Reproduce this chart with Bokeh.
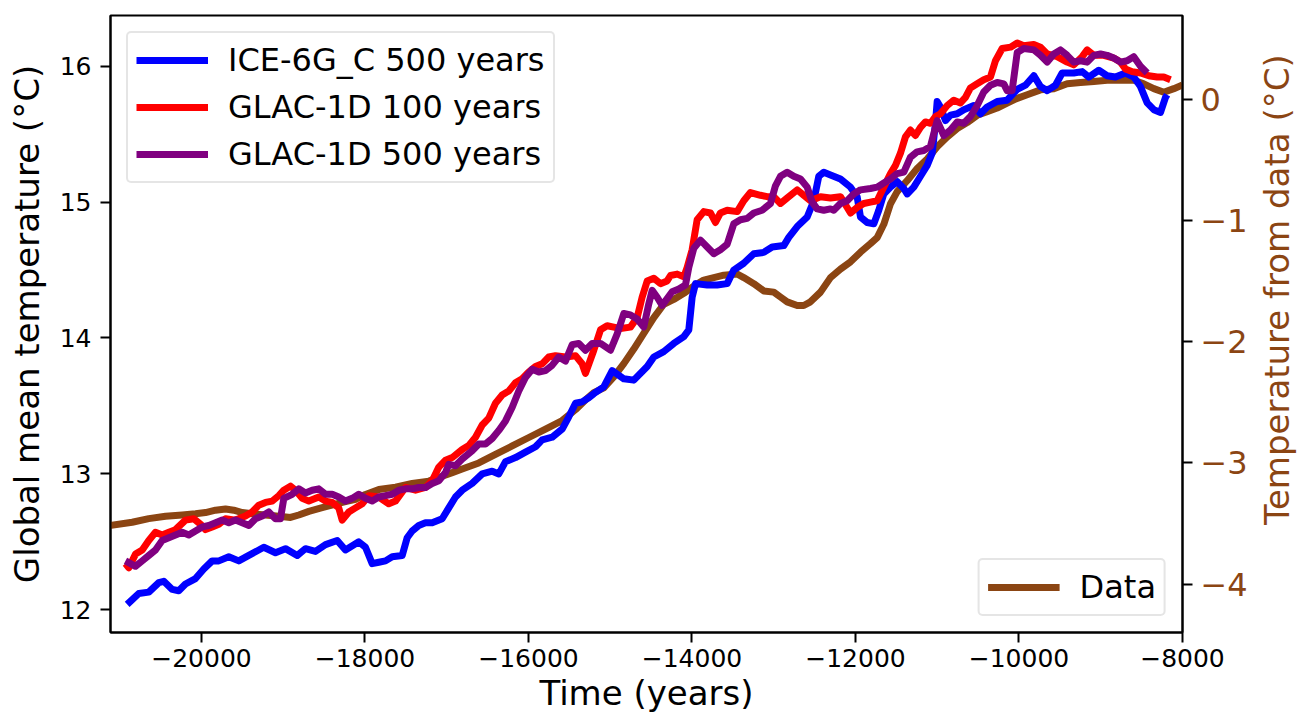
import math
from bokeh.plotting import figure
from bokeh.layouts import row
from bokeh.models import (Range1d, LinearAxis, FixedTicker, Legend, LegendItem)
from bokeh.core.properties import value
from bokeh.embed import file_html
from bokeh.resources import INLINE

# ---------------- data ----------------
ice6g_years = [-20909, -20767, -20645, -20522, -20461, -20358, -20278, -20196, -20073, -19972,
               -19869, -19788, -19666, -19544, -19421, -19238, -19095, -18973, -18829, -18728,
               -18606, -18483, -18340, -18239, -18076, -17994, -17912, -17831, -17749, -17667,
               -17545, -17484, -17423, -17342, -17260, -17178, -17056, -16975, -16893, -16811,
               -16689, -16566, -16444, -16363, -16281, -16159, -16037, -15914, -15833, -15710,
               -15588, -15507, -15425, -15344, -15263, -15201, -15079, -14976, -14834, -14712,
               -14548, -14467, -14345, -14223, -14100, -14039, -13998, -13957, -13814, -13692,
               -13570, -13489, -13367, -13244, -13122, -13019, -12877, -12816, -12713, -12591,
               -12510, -12449, -12388, -12306, -12184, -12061, -11980, -11939, -11857, -11776,
               -11715, -11654, -11572, -11490, -11409, -11368, -11287, -11205, -11123, -11062,
               -11022, -11001, -10961, -10899, -10838, -10756, -10675, -10553, -10471, -10390,
               -10267, -10145, -10022, -9921, -9819, -9737, -9655, -9554, -9472, -9330,
               -9227, -9147, -9024, -8922, -8820, -8698, -8596, -8514, -8432, -8351,
               -8269, -8208, -8188]
ice6g_temp = [12.04, 12.12, 12.13, 12.20, 12.21, 12.15, 12.14, 12.19, 12.23, 12.30,
              12.36, 12.36, 12.39, 12.36, 12.40, 12.46, 12.42, 12.45, 12.40, 12.45,
              12.43, 12.48, 12.51, 12.44, 12.50, 12.46, 12.34, 12.35, 12.36, 12.39,
              12.40, 12.53, 12.58, 12.62, 12.64, 12.64, 12.67, 12.75, 12.83, 12.88,
              12.93, 13.00, 13.02, 13.00, 13.09, 13.12, 13.16, 13.20, 13.25, 13.27,
              13.33, 13.42, 13.52, 13.53, 13.56, 13.59, 13.64, 13.76, 13.70, 13.69,
              13.79, 13.86, 13.90, 13.96, 14.01, 14.06, 14.30, 14.40, 14.39, 14.39,
              14.40, 14.50, 14.55, 14.62, 14.63, 14.67, 14.68, 14.74, 14.82, 14.89,
              15.01, 15.19, 15.22, 15.20, 15.17, 15.11, 15.04, 14.89, 14.85, 14.84,
              14.94, 15.06, 15.11, 15.15, 15.10, 15.06, 15.11, 15.19, 15.27, 15.36,
              15.58, 15.74, 15.70, 15.60, 15.64, 15.65, 15.68, 15.71, 15.65, 15.70,
              15.74, 15.75, 15.83, 15.86, 15.93, 15.85, 15.82, 15.86, 15.95, 15.95,
              15.96, 15.92, 15.97, 15.93, 15.92, 15.95, 15.92, 15.85, 15.73, 15.68,
              15.66, 15.77, 15.79]

glac100_years = [-20930, -20889, -20807, -20725, -20645, -20563, -20481, -20400, -20318, -20196,
                 -20094, -20012, -19951, -19869, -19788, -19706, -19584, -19462, -19380, -19299,
                 -19217, -19135, -19054, -18993, -18911, -18850, -18768, -18687, -18565, -18483,
                 -18401, -18321, -18279, -18198, -18116, -18034, -17953, -17831, -17709, -17627,
                 -17505, -17382, -17260, -17178, -17097, -17015, -16933, -16811, -16730, -16648,
                 -16566, -16486, -16404, -16322, -16241, -16159, -16077, -15996, -15914, -15833,
                 -15752, -15670, -15548, -15425, -15344, -15303, -15201, -15119, -15038, -14957,
                 -14875, -14753, -14671, -14610, -14548, -14467, -14386, -14304, -14263, -14181,
                 -14100, -14059, -13998, -13937, -13856, -13774, -13713, -13652, -13570, -13447,
                 -13367, -13285, -13162, -13080, -13000, -12918, -12836, -12713, -12633, -12551,
                 -12428, -12306, -12184, -12102, -12061, -11980, -11899, -11817, -11735, -11654,
                 -11572, -11511, -11450, -11389, -11328, -11267, -11205, -11144, -11083, -11022,
                 -10961, -10879, -10798, -10716, -10655, -10594, -10512, -10431, -10349, -10288,
                 -10206, -10104, -10022, -9941, -9819, -9737, -9655, -9533, -9411, -9330,
                 -9227, -9166, -9085, -8963, -8841, -8759, -8698, -8616, -8514, -8413,
                 -8310, -8229, -8147]
glac100_temp = [12.34, 12.31, 12.41, 12.44, 12.51, 12.57, 12.55, 12.57, 12.59, 12.66,
                12.67, 12.63, 12.59, 12.61, 12.63, 12.67, 12.66, 12.69, 12.72, 12.77,
                12.79, 12.80, 12.84, 12.88, 12.91, 12.88, 12.82, 12.80, 12.83, 12.80,
                12.79, 12.75, 12.66, 12.72, 12.75, 12.78, 12.84, 12.83, 12.78, 12.80,
                12.90, 12.88, 12.90, 12.95, 13.05, 13.10, 13.12, 13.18, 13.21, 13.27,
                13.36, 13.41, 13.52, 13.58, 13.61, 13.67, 13.70, 13.75, 13.79, 13.81,
                13.86, 13.87, 13.86, 13.87, 13.81, 13.74, 13.91, 14.06, 14.09, 14.08,
                14.07, 14.08, 14.15, 14.30, 14.42, 14.44, 14.40, 14.42, 14.46, 14.47,
                14.45, 14.52, 14.65, 14.87, 14.93, 14.92, 14.85, 14.92, 14.94, 14.93,
                15.01, 15.07, 15.05, 15.04, 15.04, 14.99, 15.03, 15.09, 15.05, 15.01,
                15.04, 15.03, 15.04, 14.96, 14.92, 14.96, 14.99, 15.00, 15.01, 15.11,
                15.21, 15.27, 15.36, 15.48, 15.53, 15.49, 15.55, 15.59, 15.58, 15.63,
                15.65, 15.71, 15.75, 15.73, 15.77, 15.84, 15.87, 15.90, 15.92, 16.04,
                16.13, 16.14, 16.17, 16.15, 16.16, 16.14, 16.09, 16.07, 16.03, 16.01,
                16.07, 16.12, 16.08, 16.08, 16.06, 16.03, 15.98, 15.96, 15.95, 15.93,
                15.92, 15.92, 15.90]

glac500_years = [-20930, -20807, -20725, -20645, -20563, -20481, -20400, -20318, -20236, -20155,
                 -20073, -19991, -19910, -19828, -19747, -19666, -19584, -19502, -19421, -19339,
                 -19258, -19177, -19095, -19034, -18993, -18891, -18810, -18728, -18646, -18565,
                 -18483, -18401, -18321, -18239, -18157, -18076, -17994, -17912, -17831, -17749,
                 -17667, -17586, -17505, -17423, -17342, -17260, -17178, -17097, -17015, -16975,
                 -16893, -16811, -16689, -16608, -16526, -16444, -16363, -16281, -16199, -16119,
                 -16037, -15955, -15874, -15792, -15710, -15630, -15548, -15466, -15385, -15303,
                 -15221, -15119, -14997, -14915, -14834, -14753, -14671, -14590, -14529, -14487,
                 -14426, -14365, -14304, -14243, -14161, -14080, -14039, -13978, -13896, -13814,
                 -13733, -13652, -13570, -13489, -13407, -13325, -13244, -13142, -13040, -12979,
                 -12918, -12836, -12755, -12673, -12591, -12530, -12469, -12388, -12306, -12266,
                 -12184, -12102, -12021, -11939, -11817, -11735, -11654, -11572, -11490, -11409,
                 -11328, -11246, -11165, -11083, -11001, -10920, -10838, -10756, -10675, -10594,
                 -10512, -10431, -10349, -10267, -10186, -10145, -10084, -10022, -9941, -9819,
                 -9737, -9655, -9574, -9493, -9411, -9330, -9248, -9166, -9085, -9003,
                 -8922, -8841, -8759, -8677, -8596, -8514, -8432]
glac500_temp = [12.36, 12.32, 12.36, 12.40, 12.44, 12.51, 12.53, 12.55, 12.57, 12.55,
                12.58, 12.61, 12.62, 12.64, 12.66, 12.64, 12.66, 12.64, 12.62, 12.67,
                12.69, 12.72, 12.67, 12.67, 12.82, 12.85, 12.89, 12.86, 12.88, 12.89,
                12.85, 12.85, 12.83, 12.80, 12.82, 12.85, 12.82, 12.80, 12.83, 12.84,
                12.85, 12.88, 12.89, 12.89, 12.90, 12.90, 12.93, 12.95, 13.01, 13.07,
                13.06, 13.11, 13.17, 13.22, 13.22, 13.26, 13.32, 13.39, 13.49, 13.61,
                13.71, 13.77, 13.75, 13.76, 13.80, 13.86, 13.83, 13.95, 13.96, 13.91,
                13.96, 13.96, 13.91, 14.03, 14.18, 14.17, 14.14, 14.08, 14.25, 14.35,
                14.30, 14.24, 14.29, 14.34, 14.36, 14.39, 14.52, 14.66, 14.72, 14.67,
                14.62, 14.65, 14.69, 14.84, 14.87, 14.88, 14.92, 14.94, 14.99, 15.12,
                15.19, 15.22, 15.19, 15.17, 15.11, 15.00, 14.95, 14.94, 14.95, 14.94,
                14.99, 15.01, 15.06, 15.09, 15.10, 15.11, 15.14, 15.17, 15.21, 15.22,
                15.33, 15.37, 15.38, 15.41, 15.60, 15.49, 15.53, 15.59, 15.58, 15.63,
                15.71, 15.81, 15.86, 15.88, 15.87, 15.82, 15.82, 16.10, 16.13, 16.12,
                16.08, 16.03, 16.09, 16.12, 16.08, 16.03, 16.04, 16.03, 16.08, 16.09,
                16.08, 16.06, 16.03, 16.04, 16.07, 16.00, 15.95]

data_years = [-21150, -20848, -20645, -20440, -20236, -20073, -19951, -19828, -19706, -19605,
              -19502, -19380, -19217, -19054, -18911, -18810, -18687, -18524, -18361, -18239,
              -18116, -17994, -17831, -17627, -17423, -17219, -17056, -16933, -16811, -16608,
              -16404, -16199, -15996, -15792, -15588, -15425, -15303, -15201, -15079, -14957,
              -14834, -14712, -14590, -14467, -14345, -14223, -14100, -13978, -13856, -13733,
              -13611, -13447, -13367, -13244, -13122, -13000, -12918, -12836, -12713, -12633,
              -12551, -12428, -12306, -12184, -12061, -11939, -11817, -11735, -11654, -11572,
              -11490, -11368, -11246, -11123, -11001, -10879, -10756, -10634, -10512, -10390,
              -10267, -10145, -10022, -9900, -9737, -9574, -9411, -9248, -9085, -8922,
              -8759, -8596, -8474, -8351, -8229, -8106, -8000]
data_temp = [-3.52, -3.49, -3.46, -3.44, -3.43, -3.42, -3.41, -3.39, -3.38, -3.39,
             -3.41, -3.42, -3.43, -3.44, -3.45, -3.43, -3.40, -3.37, -3.34, -3.32,
             -3.30, -3.26, -3.22, -3.20, -3.17, -3.15, -3.11, -3.08, -3.05, -3.00,
             -2.93, -2.86, -2.79, -2.72, -2.65, -2.56, -2.48, -2.42, -2.38, -2.29,
             -2.18, -2.06, -1.93, -1.80, -1.69, -1.65, -1.60, -1.54, -1.49, -1.47,
             -1.45, -1.44, -1.47, -1.52, -1.58, -1.59, -1.63, -1.67, -1.70, -1.70,
             -1.67, -1.59, -1.47, -1.40, -1.34, -1.26, -1.19, -1.14, -1.03, -0.86,
             -0.76, -0.67, -0.57, -0.49, -0.39, -0.31, -0.24, -0.19, -0.13, -0.10,
             -0.07, -0.03, 0.01, 0.04, 0.08, 0.09, 0.13, 0.14, 0.15, 0.16,
             0.16, 0.16, 0.13, 0.09, 0.06, 0.09, 0.12]

x_ticks = [-20000, -18000, -16000, -14000, -12000, -10000, -8000]
left_ticks = [12, 13, 14, 15, 16]
right_ticks = [-4, -3, -2, -1, 0]

series_labels = ["ICE-6G_C 500 years", "GLAC-1D 100 years", "GLAC-1D 500 years"]
data_label = "Data"
x_title = "Time (years)"
left_title = "Global mean temperature (°C)"
right_title = "Temperature from data (°C)"

# ---------------- styling ----------------
FONT = "DejaVu Sans"
BROWN = "#8B4513"
LW = 7
MAIN_W, TITLE_W, H = 1250, 56, 720

p = figure(width=MAIN_W, height=H, output_backend="svg", toolbar_location=None,
           x_range=Range1d(-21113, -8000), y_range=Range1d(11.833, 16.373),
           min_border_left=110, min_border_right=68, min_border_top=15, min_border_bottom=88)
p.extra_y_ranges = {"right": Range1d(-4.40, 0.694)}

p.xgrid.visible = False
p.ygrid.visible = False
p.outline_line_color = "black"
p.outline_line_width = 2
p.background_fill_color = "white"
p.border_fill_color = "white"

def minus(v):
    return str(v).replace("-", "\u2212")

def style_title(ax, label, color, lab_std):
    ax.axis_label = label
    ax.axis_label_text_font = FONT
    ax.axis_label_text_font_size = "34px"
    ax.axis_label_text_font_style = "normal"
    ax.axis_label_text_color = color
    ax.axis_label_standoff = lab_std

def style_axis(ax, ticks, color="black", tick_std=9, size="25px"):
    ax.ticker = FixedTicker(ticks=ticks)
    ax.major_label_overrides = {t: minus(t) for t in ticks}
    ax.major_label_text_font = FONT
    ax.major_label_text_font_size = size
    ax.major_label_text_color = color
    ax.major_label_standoff = tick_std
    ax.major_tick_out = 10
    ax.major_tick_in = 0
    ax.major_tick_line_width = 2
    ax.major_tick_line_color = "black"
    ax.minor_tick_out = 0
    ax.minor_tick_in = 0
    ax.axis_line_width = 2
    ax.axis_line_color = "black"

style_axis(p.xaxis[0], x_ticks, tick_std=6)
style_title(p.xaxis[0], x_title, "black", 3)

style_axis(p.yaxis[0], left_ticks, tick_std=9)
p.yaxis[0].major_label_orientation = "horizontal"
style_title(p.yaxis[0], left_title, "black", 10)

right_axis = LinearAxis(y_range_name="right")
style_axis(right_axis, right_ticks, color=BROWN, tick_std=8, size="32px")
right_axis.major_label_orientation = "horizontal"
p.add_layout(right_axis, "right")

# data line underneath
r_data = p.line(data_years, data_temp, y_range_name="right", line_color=BROWN,
                line_width=LW, line_join="round")
r_ice = p.line(ice6g_years, ice6g_temp, line_color="#0000ff", line_width=LW, line_join="round")
r_g100 = p.line(glac100_years, glac100_temp, line_color="#ff0000", line_width=LW, line_join="round")
r_g500 = p.line(glac500_years, glac500_temp, line_color="#800080", line_width=LW, line_join="round")

def make_legend(items, location):
    lg = Legend(items=items, location=location)
    lg.label_text_font = FONT
    lg.label_text_font_size = "32px"
    lg.label_text_color = "black"
    lg.glyph_width = 72
    lg.glyph_height = 38
    lg.label_height = 38
    lg.label_standoff = 20
    lg.padding = 8
    lg.spacing = 9
    lg.margin = 16
    lg.border_line_color = "#cccccc"
    lg.border_line_width = 2
    lg.background_fill_color = "white"
    lg.background_fill_alpha = 0.8
    if "border_radius" in Legend.properties():
        lg.border_radius = 5
    return lg

leg1 = make_legend([LegendItem(label=series_labels[0], renderers=[r_ice]),
                    LegendItem(label=series_labels[1], renderers=[r_g100]),
                    LegendItem(label=series_labels[2], renderers=[r_g500])], "top_left")
leg2 = make_legend([LegendItem(label=data_label, renderers=[r_data])], "bottom_right")
p.add_layout(leg1)
p.add_layout(leg2)

# narrow strip on the right that carries the right-hand axis title, reading upward
pt = figure(width=TITLE_W, height=H, output_backend="svg", toolbar_location=None,
            x_range=Range1d(0, TITLE_W), y_range=Range1d(0, H),
            x_axis_type=None, y_axis_type=None, min_border=0)
pt.outline_line_color = None
pt.background_fill_color = "white"
pt.border_fill_color = "white"
pt.text(x=[26], y=[H - 320], text=[right_title], angle=math.pi / 2,
        text_align="center", text_baseline="middle",
        text_font=value(FONT), text_font_size="34px", text_color=BROWN)

layout = row(p, pt, spacing=0)
open("out.html", "w").write(file_html(layout, INLINE))
